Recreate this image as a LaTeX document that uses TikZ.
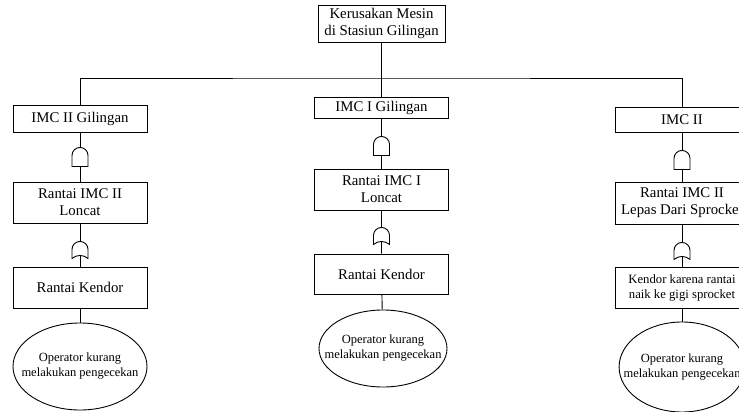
\documentclass[tikz,border=0pt]{standalone}
\usepackage{fontspec}
\setmainfont{Liberation Serif}
\usetikzlibrary{shapes.geometric}

\tikzset{
  box/.style={draw,line width=0.9pt,minimum width=134pt,inner sep=0pt,align=center,font=\fontsize{14.8}{17}\selectfont},
  oval/.style={draw,ellipse,line width=0.9pt,inner xsep=-14pt,inner ysep=0pt,align=center,font=\fontsize{12.5}{15}\selectfont},
  gate/.style={inner sep=0pt,minimum width=16pt,minimum height=19pt},
  orgate/.style={inner sep=0pt,minimum width=16pt,minimum height=14pt}
}

\begin{document}
\begin{tikzpicture}[x=1pt,y=1pt,line width=0.9pt]
      \useasboundingbox (0,0) rectangle (739,-412);
      \clip (0,0) rectangle (739,-412);
      % \draw[help lines] (0,0) grid[step=20] (739,-412);

      \draw (381.5,-23.5) node[box,minimum width=127pt,minimum height=37pt] (top) {Kerusakan Mesin\\di Stasiun Gilingan};
      \coordinate (bus) at (381.5,-78);

      % kiri
      \draw (80,-118.5) node[box,minimum height=27pt] (l1) {IMC II Gilingan};
      \draw (80,-156.5) node[gate] (a1) {};
      \draw (80,-202.5) node[box,minimum height=41pt] (l2) {Rantai IMC II\\Loncat};
      \draw (80,-248) node[orgate] (o1) {};
      \draw (80,-287.5) node[box,minimum height=41pt] (l3) {Rantai Kendor};
      \draw (80,-366.5) node[oval,minimum width=134pt,minimum height=87pt] (e1) {Operator kurang\\melakukan pengecekan};

      % tengah
      \draw (381.5,-107.5) node[box,minimum height=21pt] (m1) {IMC I Gilingan};
      \draw (381.5,-145.5) node[gate] (a2) {};
      \draw (381.5,-189.5) node[box,minimum height=41pt] (m2) {Rantai IMC I\\Loncat};
      \draw (381.5,-234) node[orgate] (o2) {};
      \draw (381.5,-274) node[box,minimum height=40pt] (m3) {Rantai Kendor};
      \draw (383,-348.5) node[oval,minimum width=128pt,minimum height=77pt] (e2) {Operator kurang\\melakukan pengecekan};

      % kanan
      \draw (682,-119.5) node[box,minimum height=25pt] (r1) {IMC II};
      \draw (682,-159.5) node[gate] (a3) {};
      \draw (682,-203) node[box,minimum height=42pt] (r2) {Rantai IMC II\\Lepas Dari Sprocket};
      \draw (682,-249) node[orgate] (o3) {};
      \draw (682,-287.5) node[box,minimum height=41pt,font=\fontsize{12.7}{15}\selectfont] (r3) {Kendor karena rantai\\naik ke gigi sprocket};
      \draw (682,-367) node[oval,minimum width=124pt,minimum height=90pt] (e3) {Operator kurang\\melakukan pengecekan};

      % gerbang AND dan OR
      \foreach \g in {a1,a2,a3}
        \draw[shift={(\g.south)}] (-8pt,0pt) -- (-8pt,11pt) arc[start angle=180,end angle=0,radius=8pt] -- (8pt,0pt) -- cycle;
      \foreach \g in {o1,o2,o3}
        \draw[shift={(\g.south)}] (-8pt,-3pt) .. controls (-3pt,1pt) and (3pt,1pt) .. (8pt,-3pt) -- (8pt,6pt) to[out=90,in=0] (0pt,14pt) to[out=180,in=90] (-8pt,6pt) -- cycle;

      \draw (top) -- (bus);
      \draw (l1.north) |- (bus) -| (r1.north);
      \draw (bus) -- (m1);
      \draw (l1) -- (a1) -- (l2) -- (o1.north);
      \draw (o1.south) -- (l3) -- (e1);
      \draw (m1) -- (a2) -- (m2) -- (o2.north);
      \draw (o2.south) -- (m3) -- (e2);
      \draw (r1) -- (a3) -- (r2) -- (o3.north);
      \draw (o3.south) -- (r3) -- (e3);
    \end{tikzpicture}
\end{document}
